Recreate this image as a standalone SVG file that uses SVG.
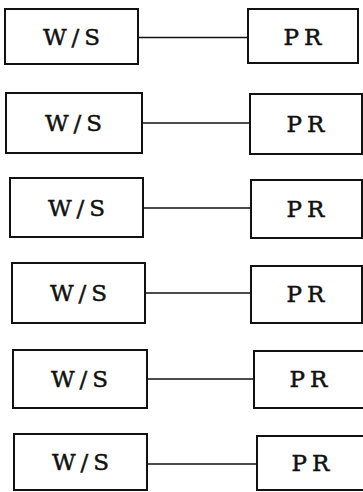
<svg xmlns="http://www.w3.org/2000/svg" width="363" height="492" viewBox="0 0 363 492">
<style>
  rect { fill: #fff; stroke: #111; stroke-width: 2; }
  line { stroke: #111; stroke-width: 1.6; }
  text { font-family: "DejaVu Serif", "Liberation Serif", serif; font-size: 23px; fill: #111; stroke: #111; stroke-width: 0.5; text-anchor: middle; }
  .ws { letter-spacing: 5px; }
  .pr { letter-spacing: 5px; }
</style>
<rect x="0" y="0" width="363" height="492" style="stroke:none;fill:#fff"/>
<g id="connectors">
  <line x1="138" y1="37.5" x2="248" y2="37.5"/>
  <line x1="142" y1="123" x2="250" y2="123"/>
  <line x1="143" y1="208" x2="251" y2="208"/>
  <line x1="145" y1="293" x2="251" y2="293"/>
  <line x1="147" y1="379" x2="254" y2="379"/>
  <line x1="147" y1="464" x2="257" y2="464"/>
</g>
<g id="ws1"><rect x="5" y="9" width="133" height="55"/><text class="ws" x="74" y="45">W/S</text></g>
<g id="pr1"><rect x="248" y="9" width="110" height="54"/><text class="pr" x="305" y="45">PR</text></g>
<g id="ws2"><rect x="6" y="93" width="136" height="60"/><text class="ws" x="76" y="131">W/S</text></g>
<g id="pr2"><rect x="250" y="94" width="112" height="60"/><text class="pr" x="308" y="132">PR</text></g>
<g id="ws3"><rect x="10" y="178" width="133" height="59"/><text class="ws" x="79" y="216">W/S</text></g>
<g id="pr3"><rect x="251" y="180" width="111" height="58"/><text class="pr" x="308" y="217">PR</text></g>
<g id="ws4"><rect x="12" y="263" width="133" height="60"/><text class="ws" x="81" y="301">W/S</text></g>
<g id="pr4"><rect x="251" y="266" width="111" height="57"/><text class="pr" x="308" y="302">PR</text></g>
<g id="ws5"><rect x="13" y="350" width="134" height="58"/><text class="ws" x="82" y="387">W/S</text></g>
<g id="pr5"><rect x="254" y="351" width="110" height="57"/><text class="pr" x="311" y="387">PR</text></g>
<g id="ws6"><rect x="14" y="434" width="133" height="56"/><text class="ws" x="83" y="470">W/S</text></g>
<g id="pr6"><rect x="257" y="436" width="107" height="54"/><text class="pr" x="313" y="471">PR</text></g>
</svg>
